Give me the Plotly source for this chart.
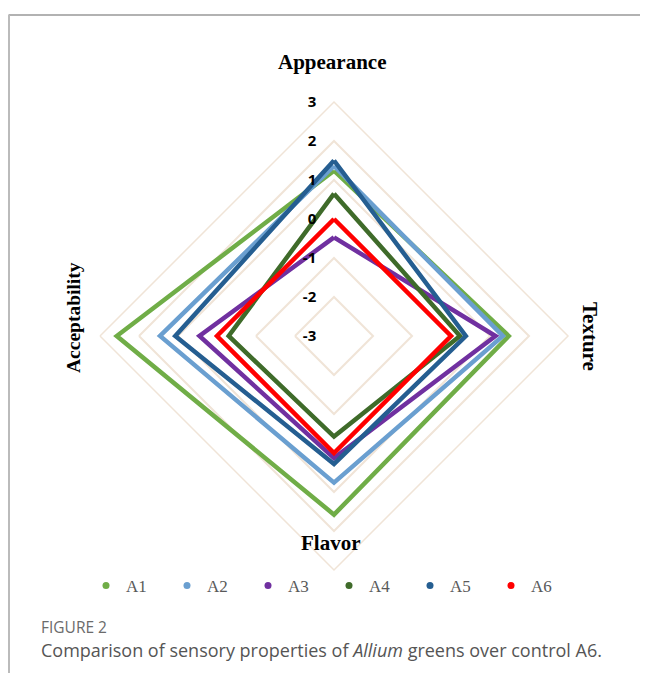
import plotly.graph_objects as go

categories = ["Appearance", "Texture", "Flavor", "Acceptability"]
series_names = ["A1", "A2", "A3", "A4", "A5", "A6"]
A1 = [1.24, 1.48, 1.58, 2.57]
A2 = [1.36, 1.33, 0.76, 1.46]
A3 = [-0.47, 1.14, 0.13, 0.45]
A4 = [0.65, 0.23, -0.42, -0.30]
A5 = [1.50, 0.38, 0.28, 1.07]
A6 = [0.0, 0.0, 0.0, 0.0]
series_values = [A1, A2, A3, A4, A5, A6]
colors = ["#70AD47", "#6A9FD0", "#7030A0", "#3F6B2A", "#255E91", "#FF0000"]
tick_vals = [-3, -2, -1, 0, 1, 2, 3]
tick_text = ["-3", "-2", "-1", "0", "1", "2", "3"]

# page body has an 8px margin; figure coordinates = screen coordinates - 8
OFF = 8
W, H = 632, 665
fig = go.Figure()

for name, vals, col in zip(series_names, series_values, colors):
    fig.add_trace(go.Scatterpolar(
        r=vals + [vals[0]], theta=categories + [categories[0]],
        mode="lines", line=dict(color=col, width=4.5),
        name=name, showlegend=False, hoverinfo="skip"))

for name, col in zip(series_names, colors):
    fig.add_trace(go.Scatterpolar(
        r=[None], theta=[None], mode="markers",
        marker=dict(symbol="circle", size=7, color=col),
        name=name, showlegend=True))

def px(X):
    return (X - OFF) / W

def py(Y):
    return 1 - (Y - OFF) / H

cx, cy, R = 334, 336, 234
fig.update_layout(
    width=W, height=H,
    margin=dict(l=0, r=0, t=0, b=0),
    paper_bgcolor="white",
    plot_bgcolor="white",
    polar=dict(
        domain=dict(x=[px(cx - R), px(cx + R)], y=[py(cy + R), py(cy - R)]),
        bgcolor="white",
        gridshape="linear",
        angularaxis=dict(
            categoryorder="array", categoryarray=categories,
            rotation=90, direction="clockwise",
            showticklabels=False, ticks="", showgrid=False,
            showline=True, linecolor="#F0E4D7", linewidth=1.5),
        radialaxis=dict(
            range=[-3, 3], tickvals=tick_vals, ticktext=tick_text,
            angle=90, tickangle=90, side="counterclockwise",
            showline=False, ticks="outside", ticklen=12, tickcolor="rgba(0,0,0,0)",
            gridcolor="#F0E4D7", gridwidth=1.5,
            tickfont=dict(family="Open Sans", size=15, color="black", weight="bold")),
    ),
    legend=dict(
        orientation="h", x=px(86), xanchor="left", y=py(586), yanchor="middle",
        entrywidth=36, entrywidthmode="pixels", itemwidth=30,
        font=dict(family="Liberation Serif", size=17, color="#595959"),
        bgcolor="rgba(0,0,0,0)"),
    showlegend=True,
)

ann = []
def add_text(text, X, Y, size, family, color, angle=0, bold=False, xanchor="center"):
    ann.append(dict(text=("<b>%s</b>" % text) if bold else text, x=px(X), y=py(Y),
                    xref="paper", yref="paper", showarrow=False, textangle=angle,
                    xanchor=xanchor, yanchor="middle",
                    font=dict(family=family, size=size, color=color)))

add_text("Appearance", 332, 62, 21, "Liberation Serif", "black", bold=True)
add_text("Texture", 590, 336, 21, "Liberation Serif", "black", angle=90, bold=True)
add_text("Flavor", 331, 543, 21, "Liberation Serif", "black", bold=True)
add_text("Acceptability", 73, 318, 19.5, "Liberation Serif", "black", angle=-90, bold=True)
add_text("FIGURE 2", 39, 627, 15.5, "Open Sans", "#6b6b6b", xanchor="left")
add_text("Comparison of sensory properties of <i>Allium</i> greens over control A6.",
         39, 650, 18, "Open Sans", "#555555", xanchor="left")
fig.update_layout(annotations=ann)

fig.update_layout(shapes=[
    dict(type="line", xref="paper", yref="paper", x0=px(8.5), x1=1, y0=py(15), y1=py(15),
         line=dict(color="#999999", width=1.5)),
    dict(type="line", xref="paper", yref="paper", x0=px(9), x1=px(9), y0=py(15), y1=0,
         line=dict(color="#BBBBBB", width=2)),
])

fig.write_html("out.html")
